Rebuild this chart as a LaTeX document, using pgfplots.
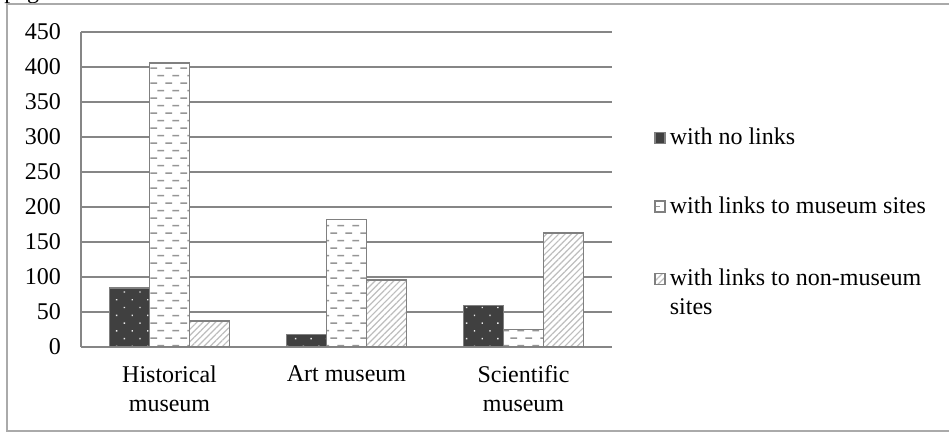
\documentclass[border=0pt]{standalone}
\usepackage{fontspec}
\setmainfont{Liberation Serif}
\usepackage{pgfplots}
\pgfplotsset{compat=1.18}
\usetikzlibrary{patterns.meta}
\definecolor{bargray}{RGB}{128,128,128}
\definecolor{darkfill}{RGB}{64,64,64}
\definecolor{gridgray}{RGB}{134,134,134}
\definecolor{framegray}{RGB}{170,170,170}
\definecolor{dashgray}{RGB}{150,150,150}
\definecolor{hatchgray}{RGB}{190,190,190}
\tikzdeclarepattern{
  name=bricks,
  type=uncolored,
  bottom left={(0pt,0pt)},
  top right={(7.5pt,7.7pt)},
  tile size={(7.5pt,7.7pt)},
  code={
    \draw[line width=0.75pt] (0.2pt,1pt) -- (3.8pt,1pt);
    \draw[line width=0.75pt] (3.95pt,4.85pt) -- (7.45pt,4.85pt);
  }
}
\begin{document}
\begin{tikzpicture}[font=\fontsize{12pt}{14.5pt}\selectfont]
\useasboundingbox (0,0) rectangle (474.5pt,216pt);
\node[anchor=base west, inner sep=0pt] at (2pt,216.5pt) {page};
\draw[framegray, line width=0.6pt] (3.5pt,0.5pt) rectangle (480pt,214pt);
\begin{axis}[
  at={(40.5pt,42.5pt)}, anchor=south west,
  scale only axis, width=265.5pt, height=157.5pt,
  ybar=0pt, bar width=20pt,
  xmin=-0.5, xmax=2.5, ymin=0, ymax=450,
  xtick={0,1,2},
  xticklabels={Historical\\museum, Art museum, Scientific\\museum},
  xticklabel style={align=center, yshift=-6pt},
  ytick={0,50,...,450},
  yticklabel style={xshift=-6.5pt},
  /pgf/number format/assume math mode=true,
  major tick length=0pt,
  axis x line*=bottom, axis y line*=left,
  axis line style={draw=gridgray, line width=0.75pt},
  ymajorgrids, major grid style={draw=gridgray, line width=0.75pt},
  legend style={at={(1.079,0.71)}, anchor=north west, draw=none, fill=none,
    inner sep=0pt, row sep=20.5pt, cells={anchor=base west}},
  legend image code/.code={\draw[#1] (0pt,0.5pt) rectangle (5pt,6pt);},
]
\addplot[draw=bargray, line width=0.75pt, fill=darkfill,
  postaction={pattern={Dots[angle=45, distance=5.5pt, radius=0.5pt]}, pattern color=white!85!gray}]
  coordinates {(0,84) (1,18) (2,59)};
\addlegendentry{with no links}
\addplot[draw=bargray, line width=0.75pt, fill=white,
  postaction={pattern=bricks, pattern color=dashgray}]
  coordinates {(0,406) (1,182) (2,25)};
\addlegendentry{with links to museum sites}
\addplot[draw=bargray, line width=0.75pt, fill=white,
  postaction={pattern={Lines[angle=45, distance=2.2pt, line width=0.6pt]}, pattern color=hatchgray}]
  coordinates {(0,37) (1,96) (2,163)};
\addlegendentry{\begin{tabular}[t]{@{}l@{}}with links to non-museum\\sites\end{tabular}}
\end{axis}
\end{tikzpicture}
\end{document}
